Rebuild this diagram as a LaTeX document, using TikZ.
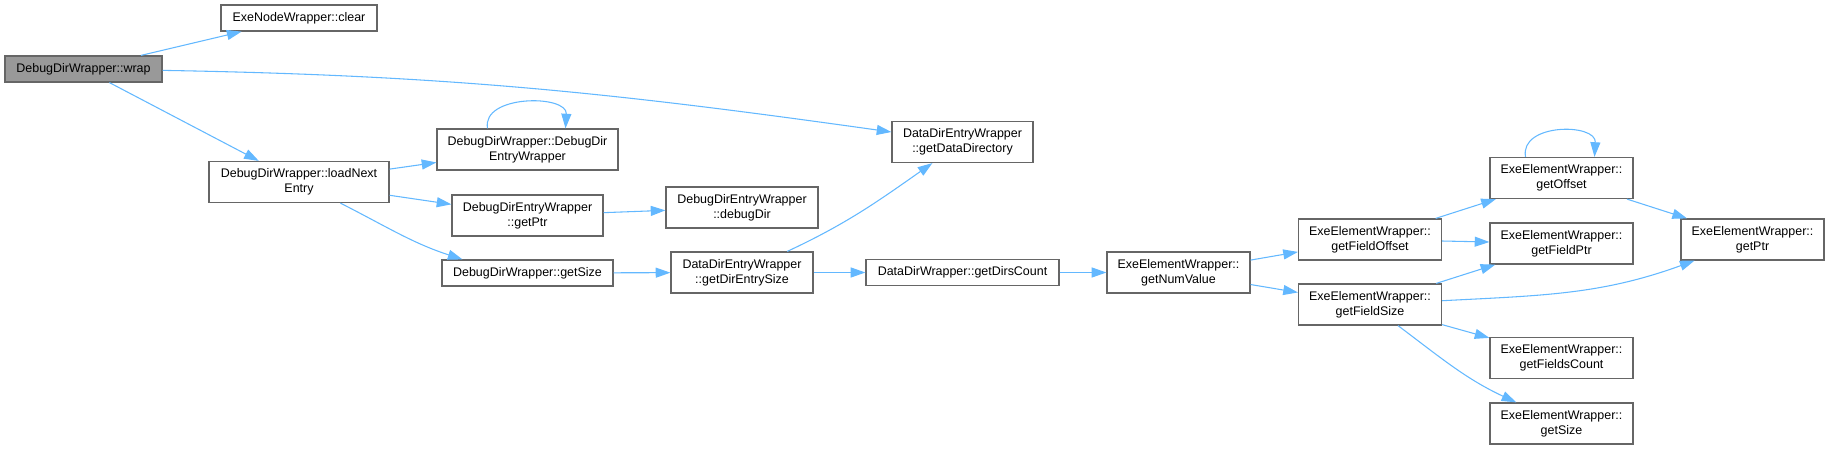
\documentclass[tikz,border=0pt]{standalone}
\usepackage{fontspec}
\setmainfont{Liberation Sans}
\usepackage{xcolor}
\usepackage{tikz}
\usetikzlibrary{arrows.meta, calc}

\definecolor{edgeblue}{HTML}{63B8FF}
\definecolor{boxgray}{HTML}{666666}
\definecolor{rootgray}{HTML}{999999}
\newcommand{\fnfont}{\fontsize{9.35}{11}\selectfont}

\begin{document}
\begin{tikzpicture}[x=0.75pt, y=0.75pt,
  fn/.style={draw=boxgray, line width=0.9pt, fill=white, inner sep=0pt, minimum height=30.75pt, align=center, font=\fnfont},
  fnone/.style={fn, minimum height=19.5pt},
  boxw/.style={minimum width=#1*0.75pt},
  call/.style={draw=edgeblue, line width=0.8pt, -{Triangle[length=11pt, width=7.5pt]}}]
\useasboundingbox (0,0) rectangle (1830,-449);
\node[fnone, boxw=157, fill=rootgray] (wrap) at (83.5,-69) {DebugDirWrapper::wrap};
\node[fnone, boxw=156] (clear) at (299,-18) {ExeNodeWrapper::clear};
\node[fn, boxw=180] (loadnext) at (299,-182) {DebugDirWrapper::loadNext\\Entry};
\node[fn, boxw=181] (ctor) at (527.5,-149.5) {DebugDirWrapper::DebugDir\\EntryWrapper};
\node[fn, boxw=151] (ptrddew) at (527.5,-215.5) {DebugDirEntryWrapper\\::getPtr};
\node[fnone, boxw=171] (sizeddw) at (527.5,-273) {DebugDirWrapper::getSize};
\node[fn, boxw=152] (debugdir) at (742,-207.5) {DebugDirEntryWrapper\\::debugDir};
\node[fn, boxw=142] (direntrysize) at (742,-272.5) {DataDirEntryWrapper\\::getDirEntrySize};
\node[fn, boxw=141] (datadir) at (962.5,-142) {DataDirEntryWrapper\\::getDataDirectory};
\node[fnone, boxw=193] (dirscount) at (962.5,-272.5) {DataDirWrapper::getDirsCount};
\node[fn, boxw=143] (numvalue) at (1178.5,-272.5) {ExeElementWrapper::\\getNumValue};
\node[fn, boxw=143] (fieldoffset) at (1370,-239.5) {ExeElementWrapper::\\getFieldOffset};
\node[fn, boxw=143] (fieldsize) at (1370,-304.5) {ExeElementWrapper::\\getFieldSize};
\node[fn, boxw=143] (offset) at (1561.5,-178) {ExeElementWrapper::\\getOffset};
\node[fn, boxw=143] (fieldptr) at (1561.5,-243.5) {ExeElementWrapper::\\getFieldPtr};
\node[fn, boxw=143] (ptreew) at (1752.5,-239.5) {ExeElementWrapper::\\getPtr};
\node[fn, boxw=143] (fieldscount) at (1561.5,-358) {ExeElementWrapper::\\getFieldsCount};
\node[fn, boxw=143] (sizeeew) at (1561.5,-423.5) {ExeElementWrapper::\\getSize};
\draw[call] (wrap) -- (clear);
\draw[call] (wrap) to[out=-1, in=172] (datadir);
\draw[call] (wrap) -- (loadnext);
\draw[call] (loadnext) -- (ctor);
\draw[call] (loadnext) -- (ptrddew);
\draw[call] (loadnext) to[out=-27, in=162] ($(sizeddw.north)+(-65,0)$);
\draw[call] ($(ctor.north)+(-40,0)$) .. controls +(-6,34) and +(2,34) .. ($(ctor.north)+(38,0)$);
\draw[call] (ptrddew) -- (debugdir);
\draw[call] (sizeddw) -- (direntrysize);
\draw[call] (direntrysize) to[out=25, in=-145] (datadir);
\draw[call] (direntrysize) -- (dirscount);
\draw[call] (dirscount) -- (numvalue);
\draw[call] (numvalue) -- (fieldoffset);
\draw[call] (numvalue) -- (fieldsize);
\draw[call] (fieldoffset) -- (offset);
\draw[call] (fieldoffset) -- (fieldptr);
\draw[call] ($(offset.north)+(-36,0)$) .. controls +(-6,34) and +(2,34) .. ($(offset.north)+(33,0)$);
\draw[call] (offset) -- (ptreew);
\draw[call] (fieldsize) -- (fieldptr);
\draw[call] (fieldsize) to[out=3, in=-160] (ptreew);
\draw[call] (fieldsize) -- (fieldscount);
\draw[call] (fieldsize) to[out=-37, in=155] (sizeeew);
\end{tikzpicture}
\end{document}
